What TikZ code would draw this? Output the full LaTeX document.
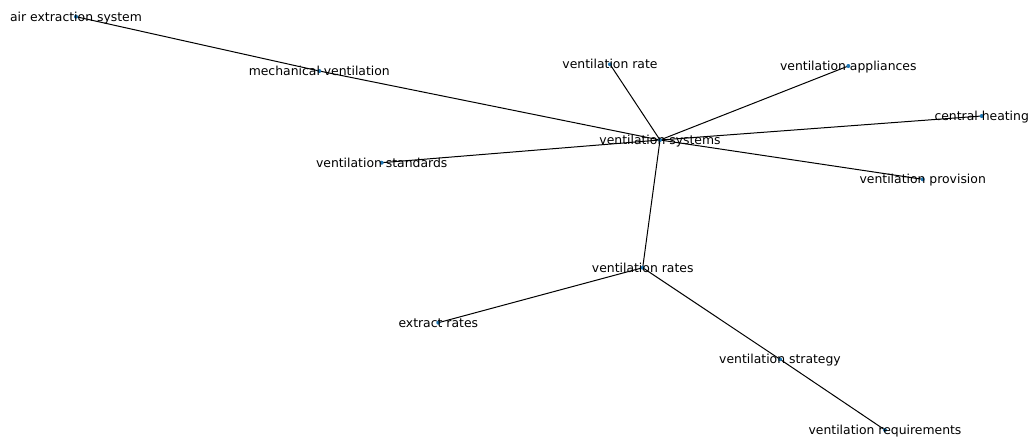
\documentclass[tikz,border=0pt]{standalone}
\usepackage{fontspec}
\setmainfont{DejaVu Sans}
\definecolor{nxblue}{RGB}{31, 119, 180}

\begin{document}
\begin{tikzpicture}[x=1pt, y=-1pt,
    dot/.style={circle, fill=nxblue, inner sep=0pt, minimum size=4pt},
    term/.style={inner sep=0pt, text height=10.5pt, text depth=1.5pt, font=\fontsize{12.4}{14}\selectfont}]
    \useasboundingbox (0,0) rectangle (1030,439);

    % positions of the terms
    \coordinate (airext) at (76,16.7);
    \coordinate (mechvent) at (319.3,71);
    \coordinate (ventrate) at (610,64.3);
    \coordinate (ventappl) at (848.3,66);
    \coordinate (centheat) at (981.7,116);
    \coordinate (ventsys) at (660,140);
    \coordinate (ventstd) at (381.7,162.7);
    \coordinate (ventprov) at (922.7,179.3);
    \coordinate (ventrates) at (642.7,267.7);
    \coordinate (extrates) at (438.3,322.7);
    \coordinate (ventstrat) at (780,359.3);
    \coordinate (ventreq) at (885,430);

    % edges
    \draw[line width=1pt] (airext) -- (mechvent);
    \draw[line width=1pt] (mechvent) -- (ventsys);
    \draw[line width=1pt] (ventsys) -- (ventrate);
    \draw[line width=1pt] (ventsys) -- (ventappl);
    \draw[line width=1pt] (ventsys) -- (centheat);
    \draw[line width=1pt] (ventsys) -- (ventstd);
    \draw[line width=1pt] (ventsys) -- (ventprov);
    \draw[line width=1pt] (ventsys) -- (ventrates);
    \draw[line width=1pt] (ventrates) -- (extrates);
    \draw[line width=1pt] (ventrates) -- (ventstrat);
    \draw[line width=1pt] (ventstrat) -- (ventreq);

    % dots
    \foreach \n in {airext, mechvent, ventrate, ventappl, centheat, ventsys,
                    ventstd, ventprov, ventrates, extrates, ventstrat, ventreq}
        \node[dot] (\n-dot) at (\n) {};

    % labels
    \node[term] (airext-label) at (airext) {air extraction system};
    \node[term] (mechvent-label) at (mechvent) {mechanical ventilation};
    \node[term] (ventrate-label) at (ventrate) {ventilation rate};
    \node[term] (ventappl-label) at (ventappl) {ventilation appliances};
    \node[term] (centheat-label) at (centheat) {central heating};
    \node[term] (ventsys-label) at (ventsys) {ventilation systems};
    \node[term] (ventstd-label) at (ventstd) {ventilation standards};
    \node[term] (ventprov-label) at (ventprov) {ventilation provision};
    \node[term] (ventrates-label) at (ventrates) {ventilation rates};
    \node[term] (extrates-label) at (extrates) {extract rates};
    \node[term] (ventstrat-label) at (ventstrat) {ventilation strategy};
    \node[term] (ventreq-label) at (ventreq) {ventilation requirements};
\end{tikzpicture}
\end{document}
